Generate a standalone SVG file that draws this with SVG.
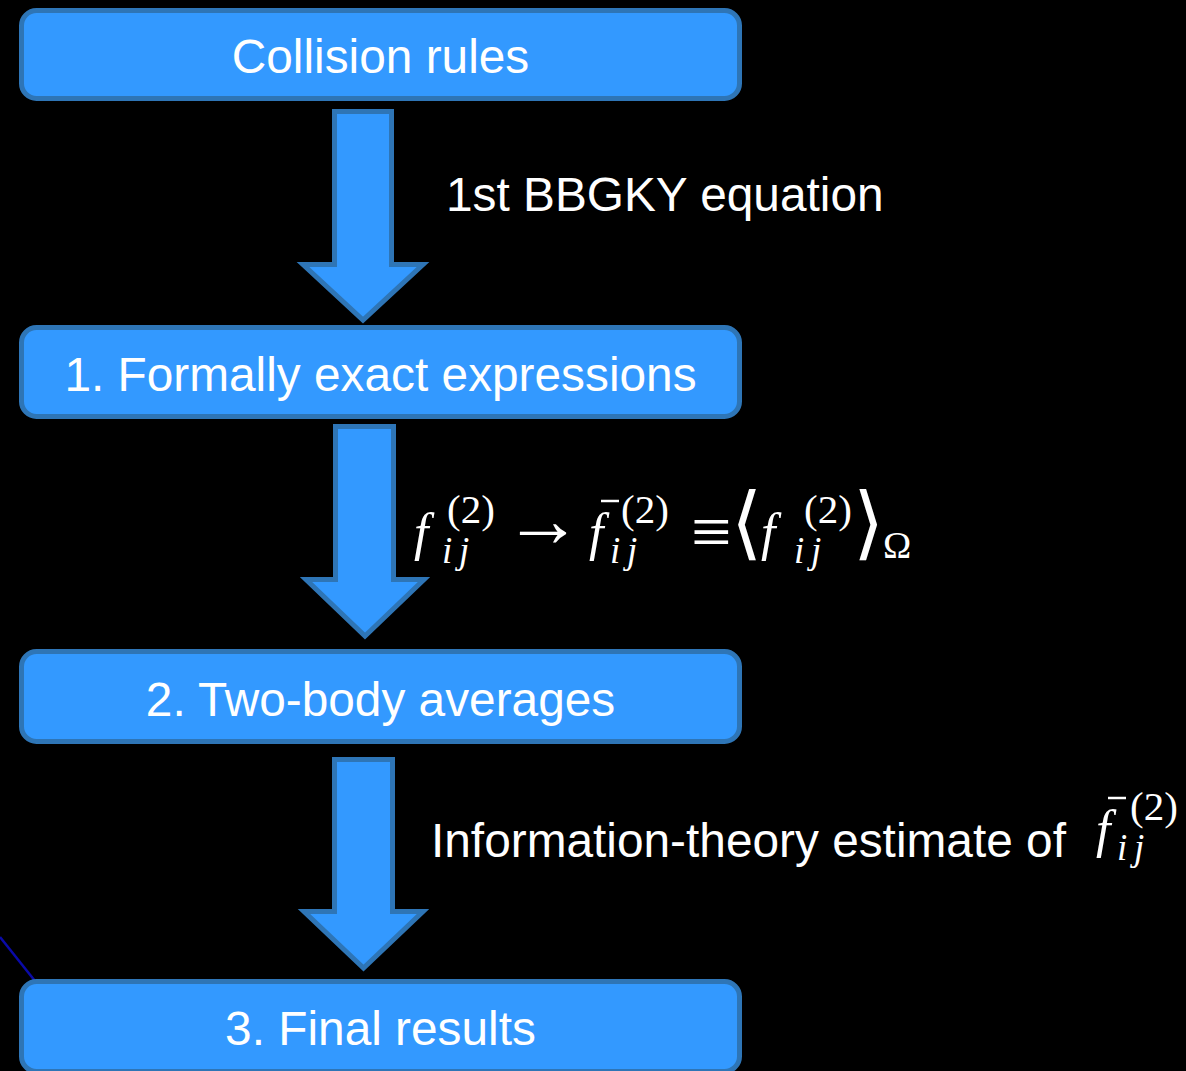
<svg xmlns="http://www.w3.org/2000/svg" width="1186" height="1071" viewBox="0 0 1186 1071">
<style>
.box{fill:#3399ff;stroke:#2e75b6;stroke-width:5}
.arr{fill:#3399ff;stroke:#2e75b6;stroke-width:5;stroke-linejoin:miter}
.lbl{font-family:"Liberation Sans",Arial,sans-serif;font-size:47.8px;fill:#ffffff}
.mi{font-family:"Liberation Serif","Times New Roman",serif;font-style:italic;fill:#ffffff}
.mr{font-family:"Liberation Serif","Times New Roman",serif;fill:#ffffff}
.ms{font-family:"DejaVu Serif","DejaVu Sans",serif;fill:#ffffff}
.bar{stroke:#ffffff;stroke-width:2.5}
</style>
<rect width="1186" height="1071" fill="#000000"/>
<line x1="0" y1="937" x2="35" y2="981" stroke="#0a0aa8" stroke-width="2.5"/>
<g id="connectors">
<polygon class="arr" points="334.5,111.5 391.5,111.5 391.5,264.5 423,264.5 363,320 303,264.5 334.5,264.5"/>
<polygon class="arr" points="335.5,426.5 393.5,426.5 393.5,579.5 424,579.5 365,636 306,579.5 335.5,579.5"/>
<polygon class="arr" points="334.5,759.5 392.5,759.5 392.5,911.5 423,911.5 363.5,968 304,911.5 334.5,911.5"/>
</g>
<g id="node-collision">
<rect class="box" x="21.5" y="10.5" width="718" height="88" rx="15"/>
<text class="lbl" x="380.5" y="73" text-anchor="middle">Collision rules</text>
</g>
<g id="node-formal">
<rect class="box" x="21.5" y="327.5" width="718" height="89" rx="15"/>
<text class="lbl" x="380.5" y="391" text-anchor="middle">1. Formally exact expressions</text>
</g>
<g id="node-twobody">
<rect class="box" x="21.5" y="651.5" width="718" height="90" rx="15"/>
<text class="lbl" x="380.5" y="716" text-anchor="middle">2. Two-body averages</text>
</g>
<g id="node-final">
<rect class="box" x="21.5" y="981.5" width="718" height="90" rx="15"/>
<text class="lbl" x="380.5" y="1045" text-anchor="middle">3. Final results</text>
</g>
<g id="label-bbgky">
<text class="lbl" x="446" y="211">1st BBGKY equation</text>
</g>
<g id="label-average">
<text class="mi" x="414" y="550" font-size="52">f</text>
<text class="mr" x="447" y="523" font-size="41">(2)</text>
<text class="mi" x="442" y="563" font-size="37">i</text>
<text class="mi" x="459" y="563" font-size="37">j</text>
<text class="mr" x="504" y="546" font-size="78">→</text>
<text class="mi" x="589" y="550" font-size="52">f</text>
<line class="bar" x1="601" y1="501" x2="619" y2="501"/>
<text class="mr" x="621" y="523" font-size="41">(2)</text>
<text class="mi" x="610" y="563" font-size="37">i</text>
<text class="mi" x="627" y="563" font-size="37">j</text>
<text class="mr" x="691" y="556" font-size="72">≡</text>
<text class="ms" x="731" y="550" font-size="80">⟨</text>
<text class="mi" x="761" y="550" font-size="52">f</text>
<text class="mr" x="804" y="523" font-size="41">(2)</text>
<text class="mi" x="794" y="563" font-size="37">i</text>
<text class="mi" x="811" y="563" font-size="37">j</text>
<text class="ms" x="853" y="550" font-size="80">⟩</text>
<text class="mr" x="883" y="558" font-size="38">Ω</text>
</g>
<g id="label-info">
<text class="lbl" x="431" y="857">Information-theory estimate of</text>
<text class="mi" x="1096" y="847" font-size="52">f</text>
<line class="bar" x1="1108" y1="798" x2="1126" y2="798"/>
<text class="mr" x="1130" y="820" font-size="41">(2)</text>
<text class="mi" x="1117" y="860" font-size="37">i</text>
<text class="mi" x="1134" y="860" font-size="37">j</text>
</g>
</svg>
